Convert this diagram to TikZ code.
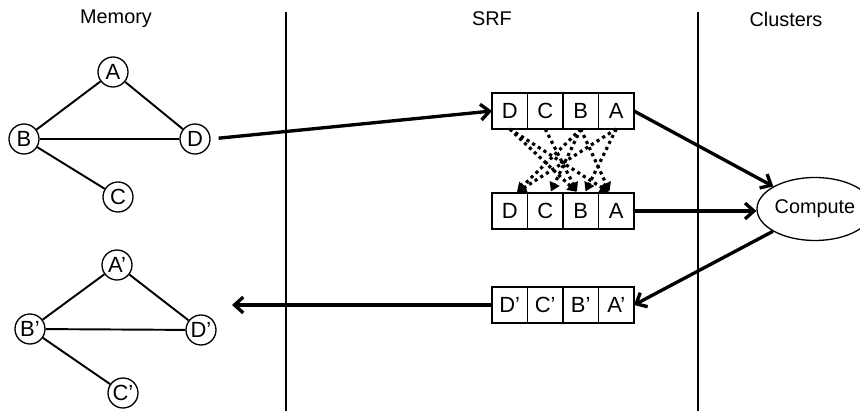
\documentclass[tikz,border=0pt]{standalone}
\usepackage{fontspec}
\setmainfont{Liberation Sans}
\usetikzlibrary{shapes.geometric, arrows.meta, positioning}

\begin{document}
\begin{tikzpicture}[
    x=0.02cm, y=-0.02cm,
    font=\fontsize{11.3}{13.5}\selectfont,
    vx/.style={draw, circle, line width=0.75pt, minimum size=0.6cm, inner sep=0pt, font=\fontsize{12.5}{14}\selectfont},
    cell/.style={draw, line width=0.75pt, minimum width=0.71cm, minimum height=0.72cm, inner sep=0pt, outer sep=0pt, font=\fontsize{12.5}{14}\selectfont},
    unit/.style={draw, ellipse, line width=0.75pt, minimum width=2.32cm, minimum height=1.26cm, inner sep=0pt},
    edg/.style={line width=1.1pt},
    sep/.style={line width=0.75pt},
    mv/.style={-{Straight Barb[length=5pt,width=9pt]}, line width=1.9pt},
    perm/.style={-{Triangle[length=5pt,width=6pt]}, line width=1.8pt, dotted, shorten >=1pt}
]
\useasboundingbox (0,0) rectangle (860,411);

% column headings and separators
\node (hm) at (116,19) {Memory};
\node (hs) at (492,19) {SRF};
\node (hc) at (786,19) {Clusters};
\draw[sep] (286,12) -- (286,411);
\draw[sep] (698,12) -- (698,411);

% graph in memory
\node[vx] (A) at (113,72) {A};
\node[vx] (B) at (24,139) {B};
\node[vx] (D) at (195,139) {D};
\node[vx] (C) at (118,197) {C};
\draw[edg] (A) -- (B);
\draw[edg] (A) -- (D);
\draw[edg] (B) -- (D);
\draw[edg] (B) -- (C);

% updated graph
\node[vx] (Ap) at (117,265) {A’};
\node[vx] (Bp) at (30,329) {B’};
\node[vx] (Dp) at (201,330) {D’};
\node[vx] (Cp) at (123,393) {C’};
\draw[edg] (Ap) -- (Bp);
\draw[edg] (Ap) -- (Dp);
\draw[edg] (Bp) -- (Dp);
\draw[edg] (Bp) -- (Cp);

% streams in the SRF
\node[cell] (TD) at (509.75,111) {D};
\node[cell, right=0pt of TD] (TC) {C};
\node[cell, right=0pt of TC] (TB) {B};
\node[cell, right=0pt of TB] (TA) {A};

\node[cell] (MD) at (509.75,211) {D};
\node[cell, right=0pt of MD] (MC) {C};
\node[cell, right=0pt of MC] (MB) {B};
\node[cell, right=0pt of MB] (MA) {A};

\node[cell] (RD) at (509.75,305) {D’};
\node[cell, right=0pt of RD] (RC) {C’};
\node[cell, right=0pt of RC] (RB) {B’};
\node[cell, right=0pt of RB] (RA) {A’};

\node[unit] (CMP) at (815,209) {Compute};
\coordinate (back) at (232,305);

% loads, compute and store
\draw[mv, shorten <=0.16cm] (D.east) -- (TD.west);
\draw[mv] (TA.east) -- (CMP);
\draw[mv] (MA.east) -- (MA.east -| CMP.west);
\draw[mv] (CMP) -- (RA.east);
\draw[mv] (RD.west) -- (back);

% neighbour gather
\foreach \s/\t/\dx in {TD/MB/-1.7pt, TD/MA/-3.4pt, TC/MB/-1.7pt, TB/MD/3.4pt,
                       TB/MC/2.8pt, TB/MA/-3.4pt, TA/MD/3.4pt, TA/MB/2.3pt}
    \draw[perm] (\s.south) -- ([xshift=\dx]\t.north);
\end{tikzpicture}
\end{document}
